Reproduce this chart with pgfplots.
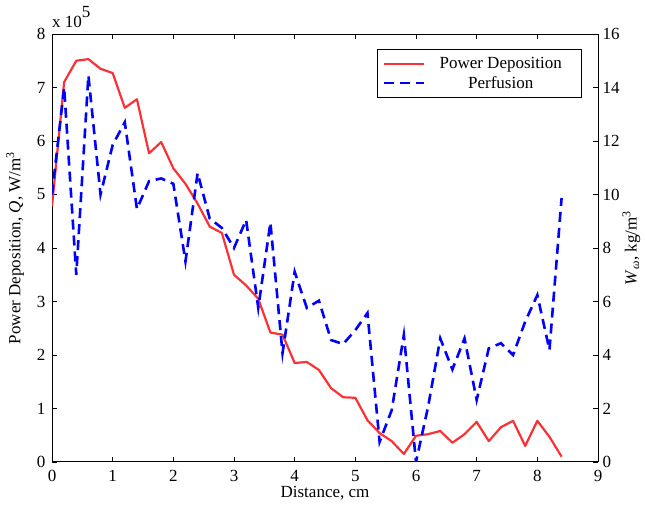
\documentclass[border=0pt]{standalone}
\usepackage{pgfplots}
\pgfplotsset{compat=1.18}
\usepackage{fontspec}
\setmainfont{Liberation Serif}

\definecolor{pdred}{RGB}{250,50,55}
\definecolor{pfblue}{RGB}{0,0,255}

% power deposition, units of 1e5 W/m^3
\pgfplotstableread{
x y
0.0 4.78
0.2 7.10
0.4 7.50
0.6 7.53
0.8 7.35
1.0 7.27
1.2 6.62
1.4 6.78
1.6 5.77
1.8 5.98
2.0 5.49
2.2 5.20
2.4 4.83
2.6 4.40
2.8 4.28
3.0 3.50
3.2 3.30
3.4 3.05
3.6 2.42
3.8 2.38
4.0 1.85
4.2 1.87
4.4 1.72
4.6 1.38
4.8 1.21
5.0 1.20
5.2 0.78
5.4 0.54
5.6 0.39
5.8 0.15
6.0 0.49
6.2 0.52
6.4 0.58
6.6 0.36
6.8 0.52
7.0 0.75
7.2 0.39
7.4 0.65
7.6 0.77
7.8 0.30
8.0 0.77
8.2 0.47
8.4 0.10
}\powertab

% perfusion, kg/m^3
\pgfplotstableread{
x y
0.0 10.0
0.2 14.0
0.4 7.0
0.6 14.45
0.8 10.0
1.0 11.85
1.2 12.7
1.4 9.46
1.6 10.5
1.8 10.6
2.0 10.4
2.2 7.5
2.4 10.8
2.6 9.1
2.8 8.75
3.0 8.0
3.2 9.05
3.4 5.76
3.6 8.95
3.8 4.07
4.0 7.11
4.2 5.76
4.4 6.03
4.6 4.56
4.8 4.41
5.0 4.93
5.2 5.57
5.4 0.75
5.6 1.94
5.8 4.75
6.0 0.0
6.2 2.07
6.4 4.62
6.6 3.46
6.8 4.62
7.0 2.32
7.2 4.25
7.4 4.44
7.6 4.0
7.8 5.25
8.0 6.24
8.2 4.19
8.4 9.87
}\perftab

\pgfplotsset{
  every axis/.append style={
    scale only axis,
    width=546pt, height=428pt,
    at={(52pt,43pt)}, anchor=south west,
    xmin=0, xmax=9,
    tick align=inside,
    major tick length=5pt,
    axis line style={line width=1pt},
    every tick/.style={black, line width=0.8pt},
    /pgf/number format/assume math mode=true,
    font=\fontsize{17}{20}\selectfont,
  },
}

\begin{document}
\begin{tikzpicture}
\path[use as bounding box] (0,0) rectangle (645pt,505pt);

\begin{axis}[
    ymin=0, ymax=8,
    ytick={0,1,...,8},
    xtick={0,1,...,9},
    axis y line*=left,
    axis x line=box,
    xtick pos=both,
    xticklabel style={yshift=-5pt},
    yticklabel style={xshift=-3pt},
    xlabel={Distance, cm},
    ylabel={Power Deposition, \textit{Q}, W/m\textsuperscript{3}},
    xlabel style={yshift=3pt},
    ylabel style={yshift=6pt},
    after end axis/.code={
      \node[anchor=base west, inner sep=0pt] at (rel axis cs:0,1) [yshift=7pt] {x 10\raisebox{10pt}{5}};
    },
]
\addplot[pdred, line width=2.2pt, line join=round] table[x=x, y=y] {\powertab};
\end{axis}

\begin{axis}[
    ymin=0, ymax=16,
    ytick={0,2,...,16},
    axis y line*=right,
    axis x line=none,
    yticklabel style={xshift=1pt},
    ylabel={\textit{W}\textsubscript{\textit{ω}}, kg/m\textsuperscript{3}},
    ylabel style={yshift=4pt},
    legend style={at={(0.97,0.965)}, anchor=north east,
      draw=black, line width=0.8pt, inner xsep=5pt, inner ysep=6pt,
      row sep=2pt},
    legend cell align=center,
    legend image code/.code={\draw[#1] (0pt,0pt) -- (40pt,0pt);},
]
\addlegendimage{pdred, line width=2.2pt}
\addlegendentry{\makebox[147pt]{Power Deposition}}
\addplot[pfblue, line width=2.6pt, dash pattern=on 10pt off 6pt] table[x=x, y=y] {\perftab};
\addlegendentry{\makebox[147pt]{Perfusion}}
\end{axis}
\end{tikzpicture}
\end{document}
